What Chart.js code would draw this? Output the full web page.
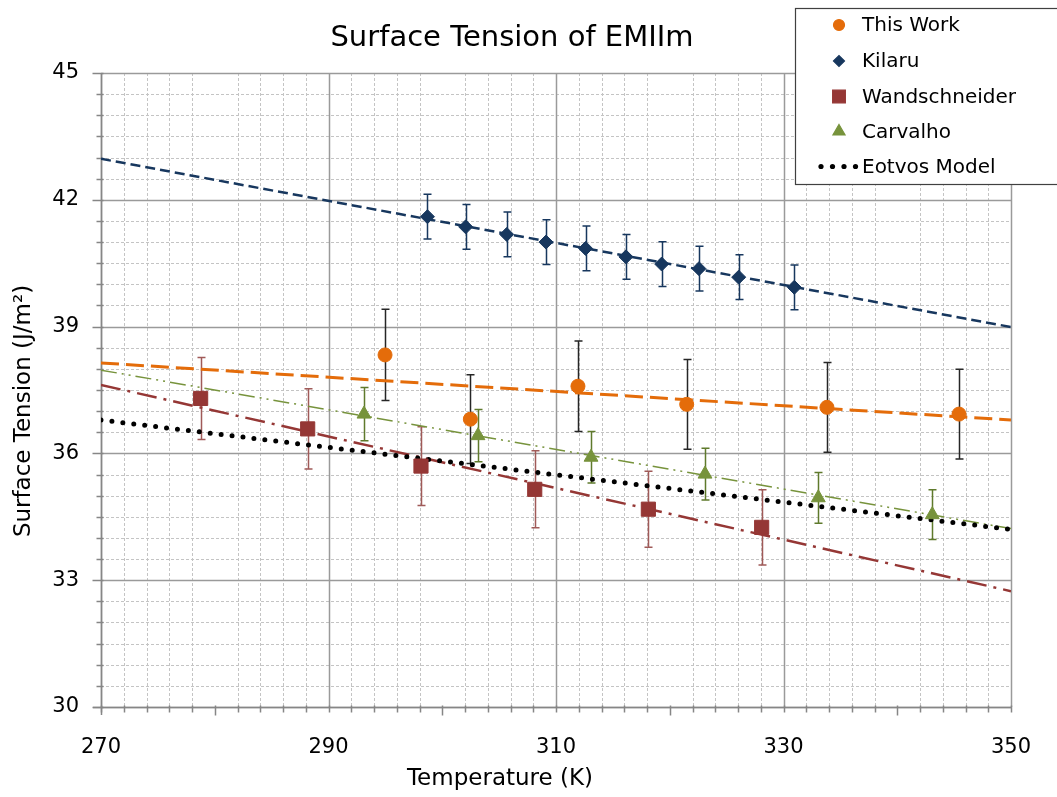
<!DOCTYPE html>
<html>
<head>
<meta charset="utf-8">
<script src="https://cdn.jsdelivr.net/npm/chart.js@4.4.0/dist/chart.umd.min.js"></script>
<style>
  html, body { margin: 0; padding: 0; background: #fff; }
  #wrap { width: 1057px; height: 797px; position: relative; }
</style>
</head>
<body>
<div id="wrap"><canvas id="grafico"></canvas></div>
<script>
// Dados
const xTicks = [270, 290, 310, 330, 350];
const yTicks = [30, 33, 36, 39, 42, 45];

const thisWorkT   = [294.97, 302.47, 311.93, 321.49, 333.82, 345.43];
const thisWorkST  = [38.33, 36.81, 37.59, 37.16, 37.09, 36.93];
const thisWorkErr = [1.08, 1.05, 1.07, 1.06, 1.06, 1.06];

const kilaruT   = [298.70, 302.06, 305.67, 309.12, 312.60, 316.15, 319.29, 322.57, 326.06, 330.95];
const kilaruST  = [41.60, 41.36, 41.18, 41.00, 40.85, 40.65, 40.48, 40.37, 40.17, 39.93];
const kilaruErr = [0.53, 0.53, 0.53, 0.53, 0.53, 0.53, 0.53, 0.53, 0.53, 0.53];

const wandT   = [278.76, 288.17, 298.13, 308.13, 318.12, 328.08];
const wandST  = [37.30, 36.58, 35.70, 35.15, 34.68, 34.25];
const wandErr = [0.97, 0.95, 0.93, 0.91, 0.90, 0.89];

const carvT   = [293.12, 303.14, 313.08, 323.10, 333.06, 343.08];
const carvST  = [36.93, 36.42, 35.91, 35.51, 34.95, 34.55];
const carvErr = [0.63, 0.62, 0.61, 0.61, 0.60, 0.59];

// Linhas de tendência (extremos em 270 K e 350 K)
const trendT      = [270, 350];
const thisWorkFit = [38.14, 36.79];
const kilaruFit   = [42.97, 38.99];
const wandFit     = [37.62, 32.74];
const carvFit     = [37.97, 34.22];
const eotvosST    = [36.79, 34.20];

const FONT = '"DejaVu Sans", Verdana, sans-serif';

function pts(xs, ys) {
    return xs.map((x, i) => ({ x: x, y: ys[i] }));
}

function pontos(label, xs, ys, errs, cor, estilo, raio, corErro) {
    return {
        label: label,
        data: pts(xs, ys),
        errors: errs,
        errorColor: corErro,
        showLine: false,
        pointStyle: estilo,
        pointRadius: raio,
        pointHoverRadius: raio,
        backgroundColor: cor,
        borderColor: cor,
        pointBorderWidth: 1
    };
}

function tendencia(ys, cor, largura, dash, cap) {
    return {
        label: '',
        data: pts(trendT, ys),
        showLine: true,
        pointRadius: 0,
        borderColor: cor,
        borderWidth: largura,
        borderDash: dash,
        borderCapStyle: cap || 'butt',
        fill: false
    };
}

const datasets = [
    pontos('This Work', thisWorkT, thisWorkST, thisWorkErr, '#E46C0A', 'circle', 7, '#262626'),
    pontos('Kilaru', kilaruT, kilaruST, kilaruErr, '#17375E', 'rectRot', 7, '#17375E'),
    pontos('Wandschneider', wandT, wandST, wandErr, '#953735', 'rect', 10, '#A05a58'),
    pontos('Carvalho', carvT, carvST, carvErr, '#77933C', 'triangle', 8, '#5f7a2c'),
    tendencia(eotvosST, '#000000', 5, [0, 11], 'round'),
    tendencia(thisWorkFit, '#E46C0A', 3, [18, 7]),
    tendencia(kilaruFit, '#17375E', 2.5, [10, 5]),
    tendencia(wandFit, '#953735', 2.5, [20, 7, 3, 7]),
    tendencia(carvFit, '#77933C', 1.5, [16, 5, 2, 5, 2, 5])
];

// Grade estilo Excel + barras de erro
const gradePlugin = {
    id: 'grade',
    beforeDatasetsDraw(chart) {
        const { ctx, chartArea: a, scales: { x, y } } = chart;
        ctx.save();
        // linhas secundárias tracejadas
        ctx.strokeStyle = '#c4c4c4';
        ctx.lineWidth = 1;
        ctx.setLineDash([3, 2]);
        for (let t = 270; t <= 350; t += 2) {
            if (t % 20 === 0) continue;
            const px = Math.round(x.getPixelForValue(t)) + 0.5;
            ctx.beginPath(); ctx.moveTo(px, a.top); ctx.lineTo(px, a.bottom); ctx.stroke();
        }
        for (let v = 30; v <= 45; v += 0.5) {
            if (v % 3 === 0) continue;
            const py = Math.round(y.getPixelForValue(v)) + 0.5;
            ctx.beginPath(); ctx.moveTo(a.left, py); ctx.lineTo(a.right, py); ctx.stroke();
        }
        // linhas principais
        ctx.setLineDash([]);
        ctx.strokeStyle = '#9a9a9a';
        ctx.lineWidth = 1.5;
        xTicks.forEach(t => {
            const px = Math.round(x.getPixelForValue(t)) + 0.5;
            ctx.beginPath(); ctx.moveTo(px, a.top); ctx.lineTo(px, a.bottom); ctx.stroke();
        });
        yTicks.forEach(v => {
            const py = Math.round(y.getPixelForValue(v)) + 0.5;
            ctx.beginPath(); ctx.moveTo(a.left, py); ctx.lineTo(a.right, py); ctx.stroke();
        });
        // eixos e marcas
        ctx.strokeStyle = '#868686';
        ctx.lineWidth = 1.5;
        const x0 = Math.round(a.left) + 0.5, yb = Math.round(a.bottom) + 0.5;
        ctx.beginPath(); ctx.moveTo(x0, a.top); ctx.lineTo(x0, a.bottom + 8); ctx.stroke();
        ctx.beginPath(); ctx.moveTo(a.left - 8, yb); ctx.lineTo(a.right, yb); ctx.stroke();
        for (let t = 270; t <= 350; t += 2) {
            const px = Math.round(x.getPixelForValue(t)) + 0.5;
            const len = t % 20 === 0 ? 8 : 5;
            ctx.beginPath(); ctx.moveTo(px, yb - 2); ctx.lineTo(px, yb + len); ctx.stroke();
        }
        for (let v = 30; v <= 45; v += 0.5) {
            const py = Math.round(y.getPixelForValue(v)) + 0.5;
            const len = v % 3 === 0 ? 9 : 5;
            ctx.beginPath(); ctx.moveTo(x0 - len, py); ctx.lineTo(x0 + 2, py); ctx.stroke();
        }

        // barras de erro
        chart.data.datasets.forEach(ds => {
            if (!ds.errors) return;
            ctx.strokeStyle = ds.errorColor;
            ctx.lineWidth = 1.5;
            ds.data.forEach((p, i) => {
                const px = Math.round(x.getPixelForValue(p.x)) + 0.5;
                const yt = y.getPixelForValue(p.y + ds.errors[i]);
                const yb2 = y.getPixelForValue(p.y - ds.errors[i]);
                ctx.beginPath();
                ctx.moveTo(px, yt); ctx.lineTo(px, yb2);
                ctx.moveTo(px - 4, yt); ctx.lineTo(px + 4, yt);
                ctx.moveTo(px - 4, yb2); ctx.lineTo(px + 4, yb2);
                ctx.stroke();
            });
        });
        ctx.restore();
    }
};

// Título, títulos dos eixos e legenda
const textosPlugin = {
    id: 'textos',
    afterDraw(chart) {
        const ctx = chart.ctx;
        ctx.save();
        ctx.fillStyle = '#000';
        ctx.textAlign = 'center';
        ctx.textBaseline = 'middle';
        ctx.font = '29px ' + FONT;
        ctx.fillText('Surface Tension of EMIIm', 512, 38);
        ctx.font = '23px ' + FONT;
        ctx.fillText('Temperature (K)', 500, 779);
        ctx.translate(24, 411);
        ctx.rotate(-Math.PI / 2);
        ctx.fillText('Surface Tension (J/m²)', 0, 0);
        ctx.restore();

        // legenda
        ctx.save();
        ctx.fillStyle = '#fff';
        ctx.fillRect(795, 8, 270, 177);
        ctx.strokeStyle = '#404040';
        ctx.lineWidth = 1.2;
        ctx.strokeRect(795.5, 8.5, 270, 176);
        const ds = chart.data.datasets;
        const linhas = [25, 61, 96.5, 131.5, 166.5];
        ctx.font = '20px ' + FONT;
        ctx.textAlign = 'left';
        ctx.textBaseline = 'middle';
        for (let i = 0; i < 4; i++) {
            const d = ds[i];
            const r = d.pointStyle === 'rect' ? 9 : (d.pointStyle === 'triangle' ? 7 : 5.5);
            ctx.fillStyle = d.backgroundColor;
            ctx.strokeStyle = d.borderColor;
            Chart.helpers.drawPoint(ctx, { pointStyle: d.pointStyle, radius: r, borderWidth: 1, rotation: 0 }, 839, linhas[i]);
            ctx.fillStyle = '#000';
            ctx.fillText(d.label, 862, linhas[i] + 1);
        }
        // Eotvos
        ctx.fillStyle = '#000';
        for (let k = 0; k < 4; k++) {
            ctx.beginPath();
            ctx.arc(821 + k * 11.5, linhas[4], 2.6, 0, Math.PI * 2);
            ctx.fill();
        }
        ctx.fillText('Eotvos Model', 862, linhas[4] + 1);
        ctx.restore();
    }
};

new Chart(document.getElementById('grafico'), {
    type: 'scatter',
    data: { datasets: datasets },
    options: {
        responsive: true,
        maintainAspectRatio: false,
        animation: false,
        events: [],
        layout: { padding: { top: 73, right: 46, left: 0, bottom: 0 } },
        plugins: {
            legend: { display: false },
            title: { display: false },
            tooltip: { enabled: false }
        },
        scales: {
            x: {
                type: 'linear',
                min: xTicks[0],
                max: xTicks[xTicks.length - 1],
                afterFit: s => { s.height = 90; },
                afterBuildTicks: s => { s.ticks = xTicks.map(v => ({ value: v })); },
                grid: { display: false },
                border: { display: false },
                ticks: { color: '#000', padding: 20, font: { family: FONT, size: 21 } }
            },
            y: {
                type: 'linear',
                min: yTicks[0],
                max: yTicks[yTicks.length - 1],
                afterFit: s => { s.width = 101; },
                afterBuildTicks: s => { s.ticks = yTicks.map(v => ({ value: v })); },
                grid: { display: false },
                border: { display: false },
                ticks: { color: '#000', padding: 14, font: { family: FONT, size: 21 } }
            }
        }
    },
    plugins: [gradePlugin, textosPlugin]
});
</script>
</body>
</html>
